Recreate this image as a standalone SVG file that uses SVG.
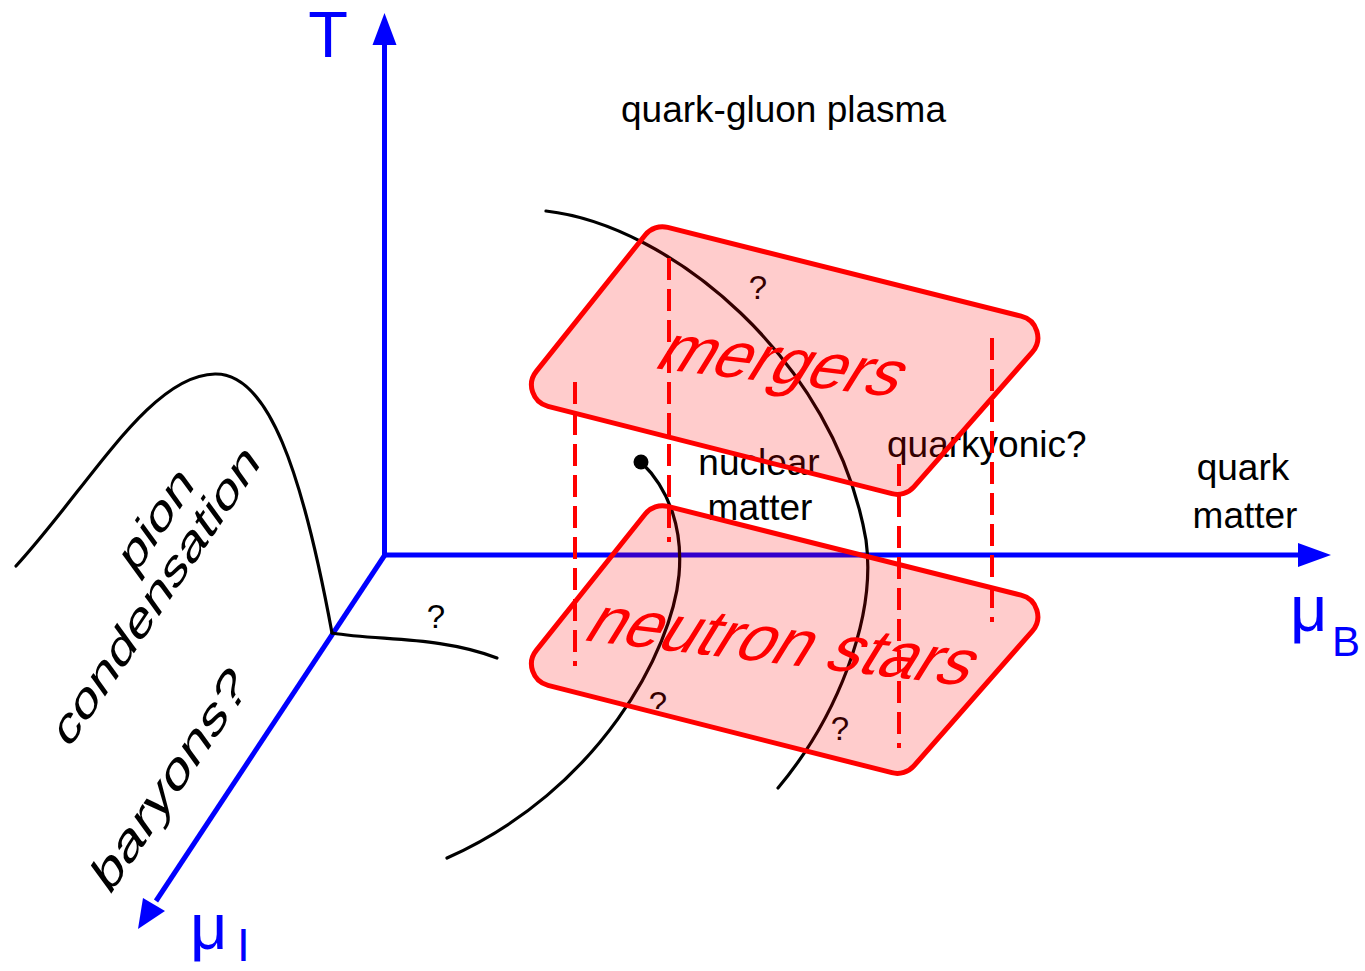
<svg xmlns="http://www.w3.org/2000/svg" width="1365" height="971" viewBox="0 0 1365 971">
<style>
.ax{stroke:#0000ff;stroke-width:5;fill:none}
.ah{fill:#0000ff;stroke:none}
.axl{fill:#0000ff;font-family:"Liberation Sans",Arial,sans-serif}
.cv{stroke:#000;stroke-width:3.2;fill:none;stroke-linecap:round}
.lb{fill:#000;font-family:"Liberation Sans",Arial,sans-serif;font-size:37px}
.q{fill:#000;font-family:"Liberation Sans",Arial,sans-serif;font-size:33px;text-anchor:middle}
.rot{fill:#000;font-family:"Liberation Sans",Arial,sans-serif;font-size:43px;text-anchor:middle}
.pl{fill:#ff0000;fill-opacity:0.2;stroke:#ff0000;stroke-width:5;stroke-linejoin:round}
.dl{stroke:#ff0000;stroke-width:4;stroke-dasharray:22 9;fill:none}
.rt{fill:#ff0000;font-family:"Liberation Sans",Arial,sans-serif;font-size:66px}
</style>
<defs>
<path id="plane" d="M667.7,227.4 L1021.1,316.2 A22,22 0 0 1 1032.3,352.1 L913.9,486.9 A22,22 0 0 1 891.9,493.7 L548,406.4 A22,22 0 0 1 536.3,371.4 L645.2,235 A22,22 0 0 1 667.7,227.4 Z"/>
</defs>
<g id="axes">
<line class="ax" x1="384.5" y1="557" x2="384.5" y2="40"/>
<polygon class="ah" points="384.5,13 372.5,45 396.5,45"/>
<line class="ax" x1="382" y1="555" x2="1300" y2="555"/>
<polygon class="ah" points="1331,555 1298,543 1298,567"/>
<line class="ax" x1="385.5" y1="554" x2="156" y2="901"/>
<polygon class="ah" points="138,929 143,898 165,911"/>
<text class="axl" x="328" y="57" font-size="65" text-anchor="middle">T</text>
<text class="axl" x="1290" y="631" font-size="65">μ</text>
<text class="axl" x="1332" y="656" font-size="42">B</text>
<text class="axl" x="190" y="949" font-size="65">μ</text>
<text class="axl" x="237" y="961" font-size="46">I</text>
</g>
<g id="curves">
<path class="cv" d="M16,566 C90,485 150,375 215,374 C268,373 302,470 332,633"/>
<path class="cv" d="M332,633 C380,641 440,636 497,658"/>
<path class="cv" d="M546,211 C670,225 835,360 866,540 C877,620 835,720 778,788"/>
<path class="cv" d="M641,462 C670,490 683,530 679,575 C672,650 600,790 447,858"/>
<circle cx="641" cy="462" r="7.5" fill="#000"/>
</g>
<g id="labels">
<text class="lb" x="621" y="122">quark-gluon plasma</text>
<text class="lb" x="759" y="475" text-anchor="middle">nuclear</text>
<text class="lb" x="760" y="520" text-anchor="middle">matter</text>
<text class="lb" x="887" y="457">quarkyonic?</text>
<text class="lb" x="1243" y="480" text-anchor="middle">quark</text>
<text class="lb" x="1245" y="528" text-anchor="middle">matter</text>
<text class="q" x="436" y="628">?</text>
<text class="q" x="758" y="299">?</text>
<text class="q" x="658" y="715">?</text>
<text class="q" x="840" y="740">?</text>
<g transform="translate(158,522) rotate(-56) skewX(-20) scale(1.35,1)"><text class="rot" x="0" y="11">pion</text></g>
<g transform="translate(158,598) rotate(-56) skewX(-20) scale(1.35,1)"><text class="rot" x="0" y="11">condensation</text></g>
<g transform="translate(172,783) rotate(-56) skewX(-20) scale(1.42,1.05)"><text class="rot" x="0" y="11">baryons?</text></g>
</g>
<g id="neutron-stars">
<use href="#plane" class="pl" transform="translate(0,279)"/>
</g>
<g id="mergers">
<use href="#plane" class="pl"/>
</g>
<g id="dashes">
<line class="dl" x1="575" y1="382" x2="575" y2="666"/>
<line class="dl" x1="669" y1="258" x2="669" y2="542"/>
<line class="dl" x1="899" y1="464" x2="899" y2="748"/>
<line class="dl" x1="992" y1="338" x2="992" y2="622"/>
</g>
<g id="plane-labels">
<g transform="translate(652,368) rotate(6.8) skewX(-25)"><text class="rt" x="0" y="0">mergers</text></g>
<g transform="translate(581,640) rotate(6.8) skewX(-25)"><text class="rt" x="0" y="0">neutron stars</text></g>
</g>
</svg>
